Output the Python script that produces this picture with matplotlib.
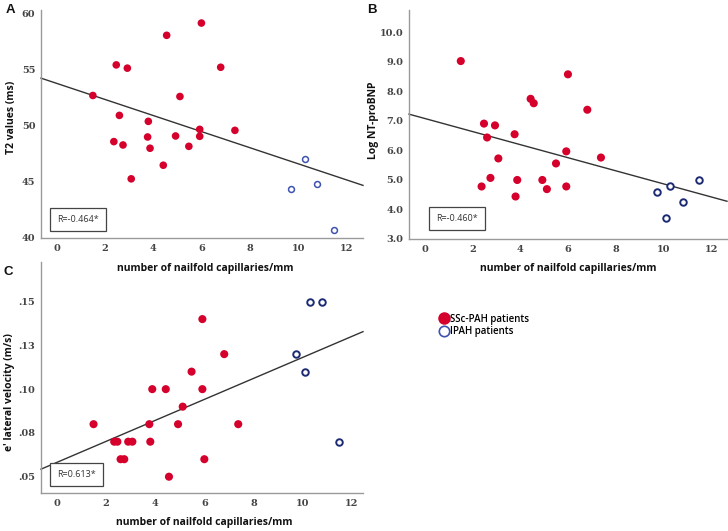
import matplotlib
matplotlib.use("Agg")
import matplotlib.pyplot as plt
from matplotlib.lines import Line2D

# ---------------- data ----------------
# Panel A: T2 values (ms)
a_ssc_x = [1.49, 2.46, 2.92, 2.36, 2.59, 2.74, 3.08, 3.79, 3.76, 3.86,
           4.41, 4.55, 4.92, 5.10, 5.47, 5.92, 5.92, 5.99, 6.79, 7.38]
a_ssc_y = [52.67, 55.39, 55.10, 48.57, 50.90, 48.27, 45.26, 50.37, 48.98, 47.98,
           46.47, 58.02, 49.07, 52.58, 48.15, 49.66, 49.04, 59.11, 55.18, 49.57]
a_ipah_x = [9.72, 10.27, 10.80, 11.48]
a_ipah_y = [44.34, 47.06, 44.76, 40.74]
a_line = (53.74, -0.714)   # intercept, slope

# Panel B: Log NT-proBNP
b_ssc_x = [1.51, 2.48, 2.61, 2.94, 3.08, 2.38, 2.75, 3.76, 3.87, 3.80,
           4.43, 4.56, 4.92, 5.11, 5.49, 5.92, 5.92, 5.99, 6.80, 7.37]
b_ssc_y = [9.03, 6.91, 6.44, 6.85, 5.73, 4.78, 5.07, 6.55, 5.00, 4.44,
           7.75, 7.60, 5.00, 4.69, 5.56, 5.97, 4.78, 8.58, 7.38, 5.76]
b_ipah_x = [9.70, 10.27, 10.09, 10.79, 11.46]
b_ipah_y = [4.60, 4.78, 3.72, 4.25, 5.00]
b_line = (7.085, -0.222)

# Panel C: e' lateral velocity (m/s)
c_ssc_x = [1.49, 2.33, 2.46, 2.59, 2.74, 2.90, 3.07, 3.76, 3.80, 3.88,
           4.43, 4.56, 4.93, 5.12, 5.48, 5.92, 5.92, 6.00, 6.81, 7.38]
c_ssc_y = [0.08, 0.07, 0.07, 0.06, 0.06, 0.07, 0.07, 0.08, 0.07, 0.10,
           0.10, 0.05, 0.08, 0.09, 0.11, 0.14, 0.10, 0.06, 0.12, 0.08]
c_ipah_x = [9.72, 10.11, 10.32, 10.80, 11.50]
c_ipah_y = [0.12, 0.11, 0.15, 0.15, 0.07]
c_line = (0.0582, 0.00599)

x_ticks = [0, 2, 4, 6, 8, 10, 12]
a_yticks = [40, 45, 50, 55, 60]
b_yticks = [3.0, 4.0, 5.0, 6.0, 7.0, 8.0, 9.0, 10.0]
c_yticks = [0.05, 0.075, 0.10, 0.125, 0.15]
c_yticklabels = [".05", ".08", ".10", ".13", ".15"]

xlabel = "number of nailfold capillaries/mm"
ylabels = ["T2 values (ms)", "Log NT-proBNP", "e' lateral velocity (m/s)"]
r_texts = ["R=-0.464*", "R=-0.460*", "R=0.613*"]
legend_labels = ["SSc-PAH patients", "IPAH patients"]

# ---------------- style ----------------
RED = "#d5002b"
BLUE_A = "#3f53b0"
BLUE_B = "#1c2b74"
SPINE = "#9a9a9a"
TICKFONT = dict(family="DejaVu Serif", size=7, weight="bold", color="#444444")
LABELFONT = dict(family="Open Sans", size=7.5, weight="bold", color="#111111")

W, H = 728, 531
fig = plt.figure(figsize=(W / 100, H / 100), dpi=100)


def px_axes(l, t, r, b):
    return fig.add_axes([l / W, 1 - b / H, (r - l) / W, (b - t) / H])


def ftext(x, y, s, **kw):
    return fig.text(x / W, 1 - y / H, s, **kw)


def style(ax, xlim, ylim, yticks, ylabs=None):
    ax.set_xlim(*xlim)
    ax.set_ylim(*ylim)
    for s in ["top", "right"]:
        ax.spines[s].set_visible(False)
    for s in ["left", "bottom"]:
        ax.spines[s].set_color(SPINE)
        ax.spines[s].set_linewidth(1.0)
    ax.set_xticks(x_ticks)
    ax.set_xticklabels([str(t) for t in x_ticks], **TICKFONT)
    ax.set_yticks(yticks)
    if ylabs is None:
        ylabs = [str(t) for t in yticks]
    ax.set_yticklabels(ylabs, **TICKFONT)
    ax.tick_params(axis="y", length=0, pad=4)
    ax.tick_params(axis="x", length=0, pad=4)
    ax.set_facecolor("none")


def draw_line(ax, coef, xlim):
    b0, b1 = coef
    xs = [xlim[0], xlim[1]]
    ax.plot(xs, [b0 + b1 * x for x in xs], color="#333333", lw=1.0, zorder=1,
            clip_on=False)


def rbox(ax, text, xy):
    ax.text(xy[0], xy[1], text, transform=ax.transAxes, ha="left", va="center",
            family="Open Sans", fontsize=6.5, color="#333333",
            bbox=dict(boxstyle="square,pad=0.75", fc="white", ec="#444444", lw=0.9),
            zorder=5)


# Panel A
axA = px_axes(41, 10, 363, 238)
xlimA = (-0.66, 12.69)
style(axA, xlimA, (40, 60.27), a_yticks)
draw_line(axA, a_line, xlimA)
axA.scatter(a_ssc_x, a_ssc_y, s=30, color=RED, edgecolors="none", zorder=3)
axA.scatter(a_ipah_x, a_ipah_y, s=18, facecolors="white", edgecolors=BLUE_A,
            linewidths=1.1, zorder=3)
rbox(axA, r_texts[0], (0.05, 0.08))

# Panel B
axB = px_axes(409, 10, 727, 239)
xlimB = (-0.655, 12.64)
style(axB, xlimB, (3.0, 10.76), b_yticks, [f"{t:.1f}" for t in b_yticks])
draw_line(axB, b_line, xlimB)
axB.scatter(b_ssc_x, b_ssc_y, s=34, color=RED, edgecolors="none", zorder=3)
axB.scatter(b_ipah_x, b_ipah_y, s=22, facecolors="white", edgecolors=BLUE_B,
            linewidths=1.4, zorder=3)
rbox(axB, r_texts[1], (0.085, 0.09))

# Panel C
axC = px_axes(41, 262, 363, 493)
xlimC = (-0.65, 12.46)
style(axC, xlimC, (0.0407, 0.1726), c_yticks, c_yticklabels)
draw_line(axC, c_line, xlimC)
axC.scatter(c_ssc_x, c_ssc_y, s=34, color=RED, edgecolors="none", zorder=3)
axC.scatter(c_ipah_x, c_ipah_y, s=22, facecolors="white", edgecolors=BLUE_B,
            linewidths=1.4, zorder=3)
rbox(axC, r_texts[2], (0.05, 0.08))

# axis labels (placed in figure pixels)
for (x, y) in [(205, 268), (568, 269), (204, 523)]:
    ftext(x, y, xlabel, ha="center", va="center", **LABELFONT)
for (x, y), lab in zip([(12, 117), (374, 120), (10, 392)], ylabels):
    ftext(x, y, lab, ha="center", va="center", rotation=90, **LABELFONT)

# panel letters
for letter, (x, y) in zip("ABC", [(6, 4), (367, 4), (4, 266)]):
    ftext(x, y, letter, ha="left", va="top",
          family="Liberation Sans", fontsize=9.5, weight="bold", color="#111111")

# legend
handles = [
    Line2D([], [], marker="o", ls="none", markersize=8, markerfacecolor=RED,
           markeredgecolor=RED),
    Line2D([], [], marker="o", ls="none", markersize=7.5, markerfacecolor="white",
           markeredgecolor=BLUE_A, markeredgewidth=1.2),
]
fig.legend(handles, legend_labels,
           loc="upper left", bbox_to_anchor=(433 / W, 1 - 309 / H),
           frameon=False, handletextpad=0.0, handlelength=1.2,
           labelspacing=0.15, borderpad=0,
           prop=dict(family="Open Sans", size=7, weight="semibold"))

fig.savefig("out.png", dpi=100)
